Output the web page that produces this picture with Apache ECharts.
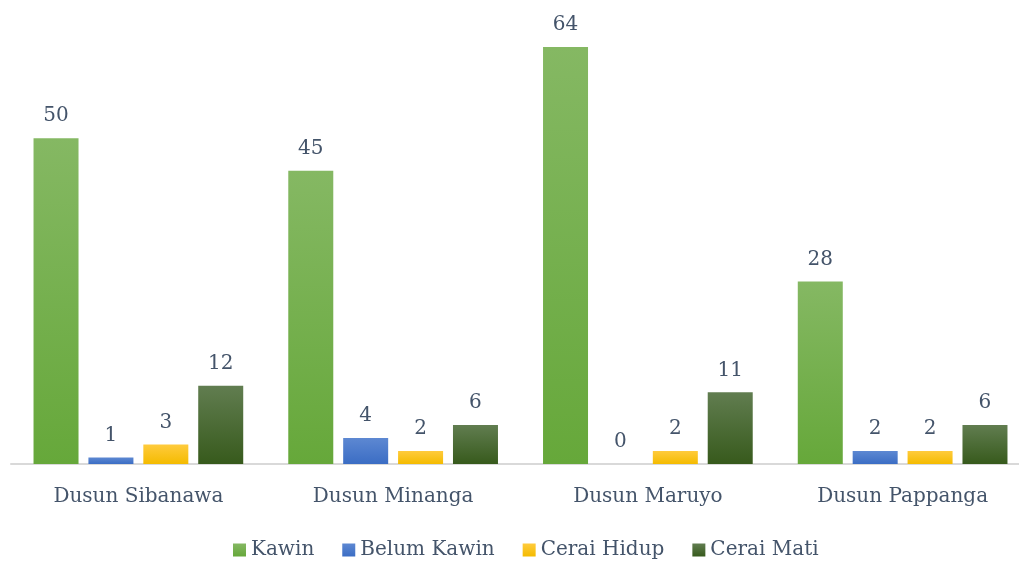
<!DOCTYPE html>
<html>
<head>
<meta charset="utf-8">
<script src="https://cdn.jsdelivr.net/npm/echarts@6/dist/echarts.min.js"></script>
<style>
  html, body { margin: 0; padding: 0; background: #fff; }
  #chart { width: 1019px; height: 561px; }
</style>
</head>
<body>
<div id="chart"></div>
<script>
// data
var categories = ["Dusun Sibanawa", "Dusun Minanga", "Dusun Maruyo", "Dusun Pappanga"];
var seriesNames = ["Kawin", "Belum Kawin", "Cerai Hidup", "Cerai Mati"];
var kawin = [50, 45, 64, 28];
var belumKawin = [1, 4, 0, 2];
var ceraiHidup = [3, 2, 2, 2];
var ceraiMati = [12, 6, 11, 6];

var fontFamily = "'DejaVu Serif', serif";
var textColor = "#44546a";

// top / bottom colours of each bar gradient
var gradients = [
  ["#85b863", "#66a83a"],
  ["#5d88d2", "#3b6dc4"],
  ["#ffcb3d", "#f4bb00"],
  ["#617d50", "#375a1c"]
];

function grad(c) {
  return new echarts.graphic.LinearGradient(0, 0, 0, 1, [
    { offset: 0, color: c[0] },
    { offset: 1, color: c[1] }
  ]);
}

var values = [kawin, belumKawin, ceraiHidup, ceraiMati];

var chart = echarts.init(document.getElementById("chart"));

var option = {
  animation: false,
  textStyle: { fontFamily: fontFamily },
  legend: {
    top: 535,
    left: 228,
    itemWidth: 13,
    itemHeight: 13,
    itemGap: 28,
    icon: "rect",
    textStyle: { color: textColor, fontSize: 20, fontFamily: fontFamily },
    data: seriesNames
  },
  grid: {
    left: 11,
    right: -11,
    top: 8,
    bottom: 97,
    outerBoundsMode: "none"
  },
  xAxis: {
    type: "category",
    data: categories,
    axisTick: { show: false },
    axisLine: { lineStyle: { color: "#d9d9d9", width: 2 } },
    axisLabel: { color: textColor, fontSize: 20, margin: 23, fontFamily: fontFamily }
  },
  yAxis: {
    type: "value",
    min: 0,
    max: 70,
    show: false,
    splitLine: { show: false }
  },
  series: seriesNames.map(function (name, i) {
    return {
      name: name,
      type: "bar",
      data: values[i],
      barWidth: 45,
      barGap: "22%",
      itemStyle: { color: grad(gradients[i]) },
      label: {
        show: true,
        position: "top",
        distance: 12,
        color: textColor,
        fontSize: 20,
        fontFamily: fontFamily
      }
    };
  })
};

chart.setOption(option);
</script>
</body>
</html>
